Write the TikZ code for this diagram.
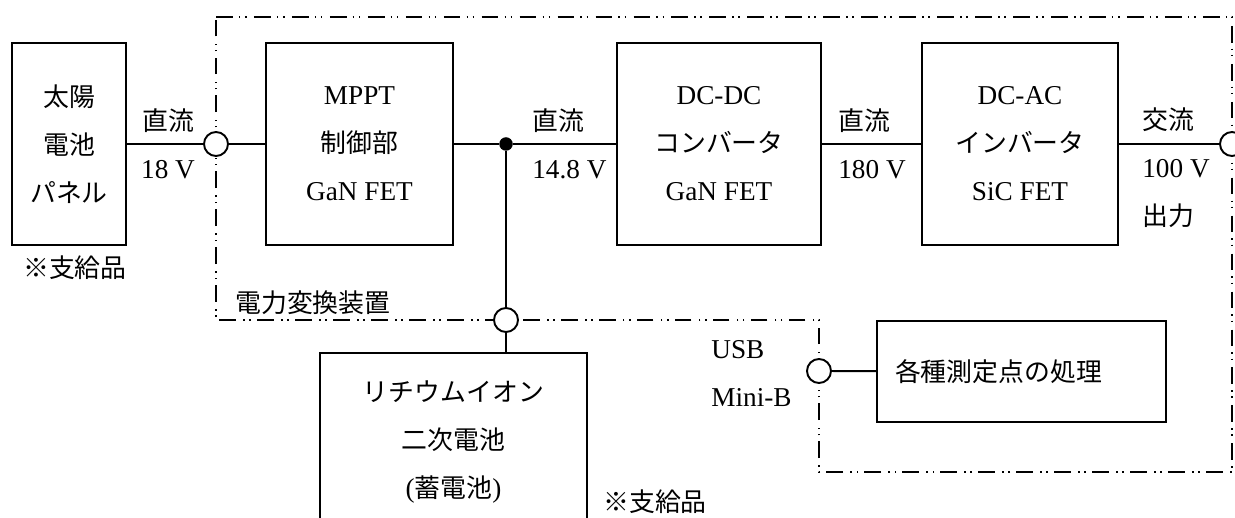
\documentclass[tikz,border=0pt]{standalone}
\usepackage{fontspec}
\setmainfont{Liberation Serif}
\newfontfamily\jp[Scale=0.95]{Noto Sans CJK JP}
\usetikzlibrary{positioning, calc}

\begin{document}
\begin{tikzpicture}[font=\fontsize{15.5}{27.3}\selectfont,
    blk/.style={draw, line width=1.1pt, minimum height=4.04cm, align=center, inner sep=0pt},
    port/.style={draw, circle, fill=white, line width=1.1pt, minimum size=0.48cm, inner sep=0pt},
    wire/.style={line width=1.1pt},
    lbl/.style={inner sep=0pt, align=left},
    bound/.style={line width=1pt, dash pattern=on 9.5pt off 3.5pt on 0.9pt off 2.6pt on 0.9pt off 4.2pt}]
  \useasboundingbox (0,0) rectangle (24.7,10.36);
  % converter frame
  \draw[bound] (4.32,10.02) -- (24.64,10.02) -- (24.64,0.92) -- (16.38,0.92) -- (16.38,3.96) -- (4.32,3.96) -- cycle;
  \node[lbl, anchor=west] (conv) at (4.7,4.3) {\jp 電力変換装置};

  \node[blk, minimum width=2.28cm] (sol) at (1.38,7.48) {{\jp 太陽}\\{\jp 電池}\\{\jp パネル}};
  \node[blk, minimum width=3.74cm] (mppt) at (7.19,7.48) {MPPT\\{\jp 制御部}\\GaN FET};
  \node[blk, minimum width=4.08cm] (dcdc) at (14.38,7.48) {DC-DC\\{\jp コンバータ}\\GaN FET};
  \node[blk, minimum width=3.92cm] (dcac) at (20.40,7.48) {DC-AC\\{\jp インバータ}\\SiC FET};
  \node[blk, minimum width=5.34cm, minimum height=3.56cm] (bat) at (9.07,1.52) {{\jp リチウムイオン}\\{\jp 二次電池}\\({\jp 蓄電池})};
  \node[draw, line width=1.1pt, minimum height=2.02cm, text width=5.06cm, inner xsep=0.36cm, align=left] (meas) at (20.43,2.93) {\jp 各種測定点の処理};

  \node[lbl, anchor=center, align=center] (v18) at (3.36,7.48) {{\jp 直流}\\18 V};
  \node[lbl, anchor=west] (v148) at (10.64,7.48) {{\jp 直流}\\14.8 V};
  \node[lbl, anchor=west] (v180) at (16.76,7.48) {{\jp 直流}\\180 V};
  \node[lbl, anchor=west] (v100) at (22.84,7.0) {{\jp 交流}\\100 V\\{\jp 出力}};
  \node[lbl, anchor=west] (usbtxt) at (14.22,2.88) {USB\\Mini-B};
  \node[lbl] (sup1) at (1.5,5.0) {\jp ※支給品};
  \node[lbl, anchor=west] (sup2) at (12.06,0.32) {\jp ※支給品};

  \node[port] (pin) at (4.32,7.48) {};
  \node[port] (out) at (24.64,7.48) {};
  \node[port] (batpin) at (10.12,3.96) {};
  \node[port] (usb) at (16.38,2.94) {};
  \node[circle, fill, inner sep=0pt, minimum size=0.27cm] (jn) at (10.12,7.48) {};

  \draw[wire] (sol) -- (pin) -- (mppt);
  \draw[wire] (mppt) -- (jn) -- (dcdc);
  \draw[wire] (dcdc) -- (dcac) -- (out);
  \draw[wire] (jn) -- (batpin) -- (batpin |- bat.north);
  \draw[wire] (usb) -- (meas);
\end{tikzpicture}
\end{document}
